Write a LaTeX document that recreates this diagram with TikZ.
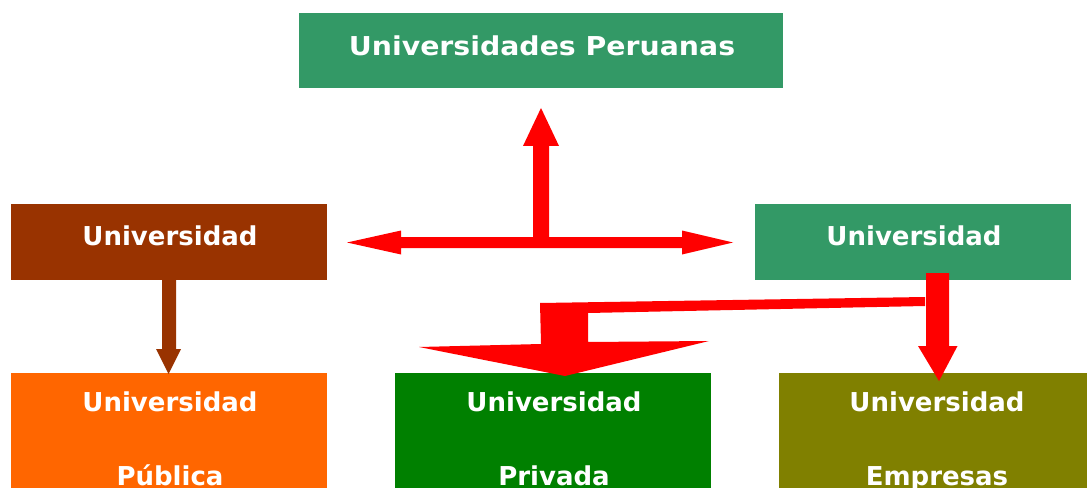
\documentclass[tikz,border=0pt]{standalone}
\usepackage{fontspec}
\setmainfont{DejaVu Sans}
\definecolor{tgreen}{HTML}{339966}
\definecolor{tbrown}{HTML}{993300}
\definecolor{torange}{HTML}{FF6600}
\definecolor{tdgreen}{HTML}{008000}
\definecolor{tolive}{HTML}{808000}
\definecolor{tred}{HTML}{FF0000}
\tikzset{
  box/.style={rectangle, inner sep=0pt, draw=none},
  lbl/.style={text=white, font=\bfseries\fontsize{19.5}{23}\selectfont, inner sep=0pt, align=center},
  redarrow/.style={fill=tred, draw=none},
}
\begin{document}
\begin{tikzpicture}[x=0.75pt,y=-0.75pt]
\useasboundingbox (0,0) rectangle (1087,488);
\clip (0,0) rectangle (1087,488);
% boxes
\node[box, fill=tgreen, minimum width=363pt, minimum height=56.25pt] (top) at (541,50.5) {};
\node[lbl] (toplbl) at (542,46) {\scalebox{1.09}[1]{Universidades Peruanas}};
\node[box, fill=tbrown, minimum width=237pt, minimum height=57pt] (left) at (169,242) {};
\node[lbl] (leftlbl) at (170,236) {Universidad};
\node[box, fill=tgreen, minimum width=237pt, minimum height=57pt] (right) at (913,242) {};
\node[lbl] (rightlbl) at (914,236) {Universidad};
\node[box, fill=torange, minimum width=237pt, minimum height=97.5pt] (pub) at (169,438) {};
\node[lbl, anchor=north] (publbl) at (170,391) {Universidad\\[33pt]Pública};
\node[box, fill=tdgreen, minimum width=237pt, minimum height=97.5pt] (priv) at (553,438) {};
\node[lbl, anchor=north] (privlbl) at (554,391) {Universidad\\[33pt]Privada};
\node[box, fill=tolive, minimum width=237pt, minimum height=97.5pt] (emp) at (937,438) {};
\node[lbl, anchor=north] (emplbl) at (937,391) {Universidad\\[33pt]Empresas};
% T arrow (left <-> right, up to top)
\fill[redarrow] (347,242.5) -- (401,230.5) -- (401,237) -- (533,237) -- (533,146) -- (523,146)
  -- (541,108) -- (559,146) -- (549,146) -- (549,237) -- (682,237) -- (682,230.5)
  -- (733,242.5) -- (682,254.5) -- (682,248) -- (401,248) -- (401,254.5) -- cycle;
% brown arrow left -> pub
\fill[tbrown] (162,280) -- (176,280) -- (176,349) -- (181,349) -- (168.5,374) -- (156,349) -- (162,349) -- cycle;
% right -> emp
\fill[redarrow] (926,273) -- (949,273) -- (949,346) -- (957.5,346) -- (939,381) -- (918,346) -- (926,346) -- cycle;
% right -> priv bent arrow
\fill[redarrow] (925,297) -- (540,303) -- (541,344) -- (419,347) -- (565,376) -- (709,341)
  -- (588,342) -- (588,313) -- (925,306) -- cycle;
\end{tikzpicture}
\end{document}
